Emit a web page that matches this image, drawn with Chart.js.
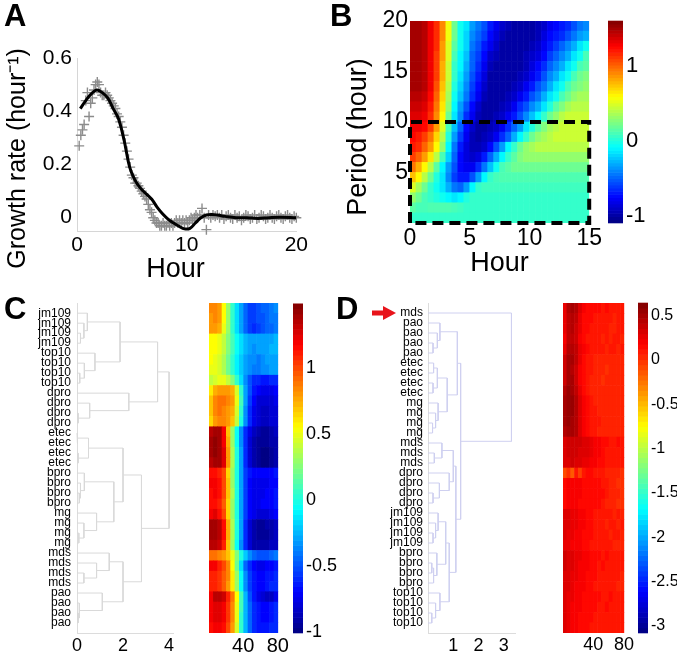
<!DOCTYPE html>
<html>
<head>
<meta charset="utf-8">
<script src="https://cdn.jsdelivr.net/npm/chart.js@4.4.1/dist/chart.umd.min.js"></script>
<style>
  body { margin: 0; background: #fff; }
  #wrap { position: relative; width: 677px; height: 655px; overflow: hidden; background: #fff; }
  canvas { position: absolute; }
  .tag { position: absolute; font: bold 31px 'Liberation Sans', Arial, sans-serif; line-height: 31px; }
</style>
</head>
<body>
<div id="wrap">
  <canvas id="growth" width="310" height="290" style="left:0;top:0"></canvas>
  <canvas id="wave" width="264" height="282" style="left:340px;top:0"></canvas>
  <canvas id="waveBar" width="77" height="282" style="left:600px;top:0"></canvas>
  <canvas id="treeC" width="190" height="365" style="left:0;top:290px"></canvas>
  <canvas id="heatC" width="100" height="365" style="left:190px;top:290px"></canvas>
  <canvas id="barC" width="55" height="365" style="left:285px;top:290px"></canvas>
  <canvas id="treeD" width="190" height="365" style="left:340px;top:290px"></canvas>
  <canvas id="heatD" width="95" height="365" style="left:540px;top:290px"></canvas>
  <canvas id="barD" width="47" height="365" style="left:630px;top:290px"></canvas>
  <div class="tag" style="left:4px;top:0">A</div>
  <div class="tag" style="left:330px;top:0">B</div>
  <div class="tag" style="left:4px;top:293px">C</div>
  <div class="tag" style="left:336px;top:293px">D</div>
</div>
<script>
// ---- panel A: growth rate ----
let obsHours = [0.2,0.35,0.5,0.65,0.8,0.95,1.1,1.25,1.4,1.55,
  1.7,1.85,2.0,2.15,2.3,2.45,2.6,2.75,2.9,3.05,
  3.2,3.35,3.5,3.65,3.8,3.95,4.1,4.25,4.4,4.55,
  4.7,4.85,5.0,5.15,5.3,5.45,5.6,5.75,5.9,6.05,
  6.2,6.35,6.5,6.65,6.8,6.95,7.1,7.25,7.4,7.55,
  7.7,7.85,8.0,8.15,8.3,8.45,8.6,8.75,8.9,9.05,
  9.2,9.35,9.5,9.65,9.8,9.95,10.1,10.25,10.4,10.55,
  10.7,10.85,11.0,11.2,11.4,11.6,11.8,12.0,12.2,12.4,
  12.6,12.8,13.0,13.2,13.4,13.6,13.8,14.0,14.2,14.4,
  14.6,14.8,15.0,15.2,15.4,15.6,15.8,16.0,16.2,16.4,
  16.6,16.8,17.0,17.2,17.4,17.6,17.8,18.0,18.2,18.4,
  18.6,18.8,19.0,19.2,19.4,19.6,19.8,20.0];
let obsRates = [0.27,0.31,0.33,0.35,0.44,0.47,0.38,0.43,0.45,0.48,
  0.50,0.51,0.50,0.47,0.46,0.46,0.47,0.46,0.45,0.44,
  0.43,0.42,0.41,0.39,0.38,0.36,0.34,0.31,0.28,0.25,
  0.22,0.19,0.16,0.15,0.13,0.13,0.12,0.11,0.10,0.09,
  0.08,0.07,0.05,0.03,0.02,0.0,-0.01,-0.02,-0.02,-0.03,
  -0.03,-0.02,-0.03,-0.03,-0.02,-0.03,-0.02,-0.03,-0.02,-0.01,
  -0.02,-0.01,-0.02,-0.01,-0.02,-0.01,-0.02,-0.01,0.0,-0.01,
  0.0,0.01,0.0,0.01,0.035,0.0,-0.045,0.01,0.0,0.01,
  0.005,0.01,0.0,0.01,-0.005,0.005,0.01,0.0,-0.005,0.01,
  0.0,0.005,-0.01,0.0,0.01,0.005,-0.005,0.0,0.01,-0.005,
  0.0,0.01,0.005,-0.005,0.0,0.01,0.0,-0.005,0.005,0.01,
  0.0,-0.005,0.005,0.01,0.0,-0.005,0.005,0.0];
let fitHours = [0.3,0.8,1.3,1.8,2.3,2.8,3.3,3.8,4.3,4.8,5.3,5.8,6.3,6.8,7.3,7.8,8.3,8.8,9.3,9.8,
  10.3,10.8,11.3,11.8,12.3,12.8,13.5,14.5,15.5,16.5,17.5,18.5,20];
let fitRates = [0.41,0.44,0.465,0.48,0.47,0.45,0.41,0.37,0.29,0.19,0.14,0.11,0.09,0.07,0.04,0.015,-0.005,-0.02,-0.032,-0.042,
  -0.04,-0.02,0.0,0.01,0.012,0.01,0.005,0.0,0.0,-0.003,0.0,0.002,0.0];
let aHourTicks = [0, 10, 20];
let aRateTicks = [0, 0.2, 0.4, 0.6];

// ---- panel B: wavelet map, rows from period 19.5 down to 0.5 ----
let bHours = [0.25,0.75,1.25,1.75,2.25,2.75,3.25,3.75,4.25,4.75,5.25,5.75,6.25,6.75,7.25,
  7.75,8.25,8.75,9.25,9.75,10.25,10.75,11.25,11.75,12.25,12.75,13.25,13.75,14.25,14.75];
let bPeriods = [19.5,18.5,17.5,16.5,15.5,14.5,13.5,12.5,11.5,10.5,9.5,8.5,7.5,6.5,5.5,4.5,3.5,2.5,1.5,0.5];
let bValues = [
  [1.5,1.5,1.45,1.3,1.15, 0.9,0.55,0.2,-0.05,-0.15, -0.35,-0.45,-0.55,-0.7,-0.8, -0.9,-0.95,-1.0,-1.0,-1.0, -1.0,-0.95,-0.9,-0.8,-0.75, -0.7,-0.65,-0.55,-0.45,-0.4],
  [1.5,1.5,1.45,1.3,1.15, 0.9,0.55,0.2,-0.05,-0.2, -0.4,-0.5,-0.6,-0.75,-0.85, -0.95,-1.0,-1.0,-1.0,-1.0, -1.0,-0.95,-0.85,-0.75,-0.7, -0.65,-0.55,-0.45,-0.35,-0.3],
  [1.5,1.5,1.45,1.3,1.15, 0.85,0.5,0.15,-0.05,-0.2, -0.45,-0.55,-0.7,-0.8,-0.9, -1.0,-1.0,-1.0,-1.0,-1.0, -0.95,-0.9,-0.8,-0.7,-0.6, -0.5,-0.4,-0.3,-0.15,-0.05],
  [1.5,1.5,1.45,1.3,1.1, 0.85,0.5,0.1,-0.1,-0.25, -0.5,-0.6,-0.75,-0.9,-0.95, -1.0,-1.0,-1.0,-1.0,-0.95, -0.9,-0.85,-0.75,-0.6,-0.5, -0.4,-0.3,-0.15,-0.05,0.1],
  [1.5,1.5,1.45,1.3,1.1, 0.8,0.45,0.05,-0.1,-0.3, -0.5,-0.65,-0.8,-0.95,-1.0, -1.0,-1.0,-1.0,-1.0,-0.95, -0.85,-0.75,-0.65,-0.5,-0.4, -0.3,-0.15,-0.05,0.1,0.15],
  [1.5,1.5,1.45,1.3,1.1, 0.8,0.45,0.05,-0.15,-0.35, -0.55,-0.7,-0.85,-1.0,-1.0, -1.0,-1.0,-1.0,-0.95,-0.9, -0.8,-0.7,-0.55,-0.4,-0.3, -0.15,-0.05,0.1,0.2,0.25],
  [1.5,1.5,1.45,1.3,1.05, 0.75,0.4,0.0,-0.2,-0.4, -0.6,-0.75,-0.9,-1.0,-1.0, -1.0,-1.0,-0.95,-0.9,-0.8, -0.7,-0.55,-0.45,-0.3,-0.15, -0.05,0.1,0.2,0.25,0.3],
  [1.45,1.45,1.4,1.25,1.0, 0.7,0.35,-0.05,-0.25,-0.45, -0.65,-0.8,-0.95,-1.0,-1.0, -1.0,-0.95,-0.9,-0.8,-0.7, -0.55,-0.45,-0.3,-0.15,-0.05, 0.1,0.2,0.3,0.35,0.35],
  [1.4,1.4,1.35,1.2,0.95, 0.65,0.3,-0.1,-0.35,-0.55, -0.75,-0.9,-1.0,-1.0,-1.0, -0.95,-0.9,-0.8,-0.65,-0.55, -0.4,-0.3,-0.15,0.0,0.15, 0.25,0.35,0.4,0.4,0.4],
  [1.35,1.35,1.3,1.15,0.9, 0.6,0.2,-0.15,-0.4,-0.65, -0.8,-0.95,-1.0,-1.0,-0.95, -0.9,-0.8,-0.7,-0.55,-0.4, -0.25,-0.1,0.05,0.2,0.3, 0.4,0.45,0.45,0.45,0.45],
  [1.3,1.3,1.25,1.1,0.85, 0.5,0.1,-0.25,-0.5,-0.75, -0.9,-1.0,-1.0,-0.95,-0.9, -0.8,-0.65,-0.5,-0.35,-0.15, 0.0,0.15,0.25,0.35,0.4, 0.45,0.45,0.45,0.45,0.45],
  [1.25,1.2,1.1,0.95,0.7, 0.4,0.0,-0.35,-0.6,-0.8, -0.95,-1.0,-0.95,-0.9,-0.8, -0.65,-0.5,-0.3,-0.1,0.05, 0.2,0.3,0.35,0.4,0.45, 0.45,0.45,0.45,0.45,0.45],
  [1.2,1.15,1.0,0.85,0.6, 0.3,-0.1,-0.45,-0.7,-0.85, -0.95,-0.95,-0.9,-0.75,-0.55, -0.35,-0.1,0.05,0.2,0.3, 0.35,0.4,0.4,0.4,0.4, 0.4,0.4,0.4,0.4,0.4],
  [1.1,1.0,0.85,0.65,0.4, 0.1,-0.2,-0.5,-0.75,-0.85, -0.9,-0.85,-0.7,-0.5,-0.3, -0.1,0.05,0.15,0.25,0.3, 0.3,0.3,0.3,0.3,0.3, 0.3,0.3,0.3,0.3,0.3],
  [0.95,0.8,0.6,0.4,0.15, -0.1,-0.35,-0.55,-0.75,-0.8, -0.8,-0.65,-0.45,-0.25,-0.05, 0.1,0.15,0.2,0.2,0.2, 0.2,0.2,0.2,0.2,0.2, 0.2,0.2,0.2,0.2,0.2],
  [0.75,0.6,0.4,0.2,0.0, -0.15,-0.4,-0.6,-0.7,-0.7, -0.55,-0.35,-0.1,0.05,0.1, 0.12,0.12,0.12,0.12,0.12, 0.12,0.12,0.12,0.12,0.12, 0.12,0.12,0.12,0.12,0.12],
  [0.5,0.35,0.2,0.05,-0.05, -0.15,-0.3,-0.45,-0.5,-0.35, -0.1,0.05,0.08,0.08,0.08, 0.08,0.08,0.08,0.08,0.08, 0.08,0.08,0.08,0.08,0.08, 0.08,0.08,0.08,0.08,0.08],
  [0.3,0.2,0.1,0.05,0.0, -0.05,-0.1,-0.15,-0.1,0.0, 0.05,0.05,0.05,0.05,0.05, 0.05,0.05,0.05,0.05,0.05, 0.05,0.05,0.05,0.05,0.05, 0.05,0.05,0.05,0.05,0.05],
  [0.15,0.1,0.1,0.12,0.12, 0.12,0.12,0.1,0.08,0.05, 0.05,0.05,0.05,0.05,0.05, 0.05,0.05,0.05,0.05,0.05, 0.05,0.05,0.05,0.05,0.05, 0.05,0.05,0.05,0.05,0.05],
  [0.05,0.05,0.05,0.05,0.05, 0.05,0.05,0.05,0.05,0.05, 0.05,0.05,0.05,0.05,0.05, 0.05,0.05,0.05,0.05,0.05, 0.05,0.05,0.05,0.05,0.05, 0.05,0.05,0.05,0.05,0.05]
];
let boxHours = [0, 0, 15, 15, 0];
let boxPeriods = [0, 10, 10, 0, 0];
let bHourTicks = [0, 5, 10, 15];
let bPeriodTicks = [5, 10, 15, 20];
let bBarTicks = [-1, 0, 1];

// ---- panels C and D: clustered strains ----
let cStrains = ['jm109','jm109','jm109','jm109','top10','top10','top10','top10',
  'dpro','dpro','dpro','dpro','etec','etec','etec','etec',
  'bpro','bpro','bpro','bpro','mg','mg','mg','mg',
  'mds','mds','mds','mds','pao','pao','pao','pao'];
let dStrains = ['mds','pao','pao','pao','pao','etec','etec','etec','etec',
  'mg','mg','mg','mg','mds','mds','mds','dpro','dpro','dpro','dpro',
  'jm109','jm109','jm109','jm109','bpro','bpro','bpro','bpro',
  'top10','top10','top10','top10'];
// links: [rowA, heightA, rowB, heightB, joinHeight]
let cLinks = [
  [3,0,4,0,0.15],[2,0,3.5,0.15,0.3],[1,0,2.75,0.3,0.45],
  [7,0,8,0,0.12],[6,0,7.5,0.12,0.32],[5,0,6.75,0.32,0.78],
  [1.875,0.45,5.875,0.78,1.87],
  [11,0,12,0,0.05],[10,0,11.5,0.05,0.55],[9,0,10.75,0.55,2.25],
  [3.875,1.87,9.875,2.25,3.5],
  [13,0,14,0,0.03],[15,0,16,0,0.05],[13.5,0.03,15.5,0.05,0.5],
  [19,0,20,0,0.1],[18,0,19.5,0.1,0.15],[17,0,18.75,0.15,0.32],
  [23,0,24,0,0.08],[22,0,23.5,0.08,0.3],[21,0,22.75,0.3,0.85],
  [17.875,0.32,21.875,0.85,1.6],[14.5,0.5,19.875,1.6,2.0],
  [27,0,28,0,0.3],[26,0,27.5,0.3,0.85],[25,0,26.75,0.85,1.4],
  [31,0,32,0,0.05],[30,0,31.5,0.05,0.1],[29,0,30.75,0.1,1.1],
  [25.875,1.4,29.875,1.1,2.0],[17.19,2.0,27.875,2.0,2.8],
  [6.875,3.5,22.53,2.8,4.0]
];
let dLinks = [
  [4,0,5,0,0.2],[3,0,4.5,0.2,0.37],[2,0,3.75,0.37,0.47],
  [6,0,7,0,0.22],[8,0,9,0,0.2],[6.5,0.22,8.5,0.2,0.37],
  [12,0,13,0,0.18],[11,0,12.5,0.18,0.3],[10,0,11.75,0.3,0.4],
  [7.5,0.37,10.875,0.4,0.76],[2.875,0.47,9.19,0.76,1.16],
  [15,0,16,0,0.25],[14,0,15.5,0.25,0.55],
  [19,0,20,0,0.2],[18,0,19.5,0.2,0.45],[17,0,18.75,0.45,0.84],
  [14.75,0.55,17.875,0.84,1.0],
  [23,0,24,0,0.2],[22,0,23.5,0.2,0.3],[21,0,22.75,0.3,0.4],
  [26,0,27,0,0.15],[26.5,0.15,28,0,0.22],[25,0,27.25,0.22,0.35],
  [21.875,0.4,26.125,0.35,0.7],
  [31,0,32,0,0.15],[30,0,31.5,0.15,0.3],[29,0,30.75,0.3,0.47],
  [24,0.7,29.875,0.47,0.84],[16.31,1.0,26.94,0.84,1.1],
  [6.03,1.16,21.625,1.1,1.29],[1,0,13.83,1.29,3.3]
];
let timeCols = [3,8,13,18,23,28,33,38,43,48,53,58,63,68,73,78];
let timeTicks = [40, 80];
let cValues = [
  [0.85,0.85,0.8,0.55,0.3,0.05,-0.15,-0.3,-0.45,-0.55,-0.55,-0.5,-0.45,-0.45,-0.4,-0.35],
  [0.8,0.85,0.8,0.55,0.3,0.05,-0.15,-0.3,-0.45,-0.55,-0.55,-0.5,-0.5,-0.45,-0.4,-0.4],
  [0.8,0.8,0.75,0.5,0.3,0.05,-0.15,-0.3,-0.45,-0.55,-0.6,-0.55,-0.5,-0.45,-0.45,-0.4],
  [0.55,0.55,0.5,0.4,0.25,0.1,-0.05,-0.15,-0.25,-0.3,-0.3,-0.3,-0.3,-0.3,-0.3,-0.25],
  [0.55,0.55,0.5,0.4,0.25,0.1,-0.05,-0.15,-0.25,-0.3,-0.35,-0.3,-0.3,-0.3,-0.25,-0.25],
  [0.55,0.5,0.45,0.35,0.2,0.05,-0.1,-0.2,-0.3,-0.35,-0.35,-0.4,-0.35,-0.3,-0.3,-0.3],
  [0.5,0.5,0.45,0.35,0.2,0.05,-0.1,-0.2,-0.3,-0.35,-0.4,-0.4,-0.35,-0.35,-0.3,-0.3],
  [0.4,0.45,0.5,0.5,0.4,0.25,0.05,-0.15,-0.35,-0.5,-0.6,-0.6,-0.65,-0.65,-0.6,-0.6],
  [0.6,0.75,0.8,0.8,0.8,0.75,0.45,0.05,-0.3,-0.5,-0.65,-0.7,-0.75,-0.75,-0.75,-0.7],
  [0.7,0.85,0.9,0.9,0.85,0.8,0.5,0.1,-0.3,-0.55,-0.7,-0.8,-0.8,-0.8,-0.8,-0.75],
  [0.7,0.85,0.9,0.85,0.8,0.75,0.45,0.05,-0.35,-0.6,-0.75,-0.8,-0.85,-0.85,-0.8,-0.8],
  [0.65,0.8,0.85,0.85,0.8,0.7,0.4,0.0,-0.35,-0.6,-0.75,-0.8,-0.85,-0.85,-0.8,-0.8],
  [1.35,1.4,1.4,1.2,0.7,0.3,-0.05,-0.35,-0.6,-0.75,-0.85,-0.9,-0.95,-0.95,-0.9,-0.85],
  [1.4,1.45,1.4,1.2,0.75,0.3,-0.05,-0.35,-0.6,-0.8,-0.9,-0.95,-0.95,-0.95,-0.9,-0.9],
  [1.4,1.45,1.4,1.25,0.8,0.35,0.0,-0.3,-0.6,-0.8,-0.9,-0.95,-1.0,-1.0,-0.95,-0.9],
  [1.35,1.4,1.4,1.25,0.8,0.35,0.0,-0.3,-0.6,-0.8,-0.9,-0.95,-1.0,-1.0,-0.95,-0.9],
  [1.15,1.15,1.1,1.0,0.65,0.3,0.0,-0.3,-0.55,-0.65,-0.7,-0.7,-0.7,-0.7,-0.7,-0.65],
  [1.2,1.2,1.15,1.0,0.7,0.3,0.0,-0.3,-0.55,-0.7,-0.75,-0.75,-0.75,-0.75,-0.7,-0.7],
  [1.15,1.2,1.15,1.0,0.7,0.35,0.0,-0.3,-0.55,-0.7,-0.75,-0.75,-0.75,-0.7,-0.7,-0.65],
  [1.15,1.15,1.1,0.95,0.65,0.3,0.0,-0.3,-0.55,-0.7,-0.75,-0.75,-0.7,-0.7,-0.7,-0.65],
  [1.2,1.25,1.15,1.0,0.65,0.3,0.0,-0.3,-0.55,-0.7,-0.75,-0.8,-0.8,-0.8,-0.75,-0.7],
  [1.4,1.4,1.35,1.15,0.75,0.35,0.0,-0.3,-0.6,-0.8,-0.9,-0.95,-0.95,-0.9,-0.9,-0.85],
  [1.4,1.4,1.35,1.15,0.75,0.35,0.0,-0.3,-0.6,-0.8,-0.9,-0.95,-0.95,-0.95,-0.9,-0.85],
  [1.35,1.35,1.3,1.1,0.7,0.3,-0.05,-0.35,-0.6,-0.8,-0.9,-0.9,-0.9,-0.9,-0.85,-0.85],
  [0.9,0.9,0.85,0.8,0.7,0.5,0.25,0.0,-0.2,-0.35,-0.45,-0.5,-0.5,-0.5,-0.45,-0.4],
  [1.2,1.2,1.1,1.0,0.85,0.55,0.2,-0.15,-0.45,-0.6,-0.7,-0.75,-0.75,-0.7,-0.7,-0.65],
  [1.1,1.1,1.05,0.95,0.85,0.6,0.3,-0.05,-0.35,-0.55,-0.65,-0.7,-0.7,-0.65,-0.65,-0.6],
  [1.1,1.1,1.05,0.95,0.8,0.6,0.3,-0.05,-0.35,-0.55,-0.65,-0.7,-0.7,-0.65,-0.6,-0.6],
  [1.2,1.35,1.35,1.3,1.1,0.9,0.55,0.1,-0.25,-0.5,-0.65,-0.75,-0.8,-0.85,-0.85,-0.75],
  [1.2,1.25,1.25,1.2,1.05,0.85,0.5,0.1,-0.25,-0.45,-0.6,-0.65,-0.7,-0.7,-0.65,-0.6],
  [1.2,1.25,1.25,1.2,1.05,0.85,0.5,0.05,-0.25,-0.45,-0.6,-0.65,-0.7,-0.7,-0.65,-0.6],
  [1.15,1.2,1.2,1.15,1.0,0.8,0.45,0.05,-0.25,-0.45,-0.6,-0.65,-0.65,-0.65,-0.6,-0.6]
];
let dValues = [
  [0.25,0.45,0.5,0.45,0.3,0.2,0.15,0.15,0.15,0.15,0.1,0.15,0.1,0.1,0.1,0.1],
  [0.25,0.4,0.45,0.4,0.25,0.15,0.15,0.15,0.1,0.1,0.1,0.1,0.1,0.05,0.1,0.1],
  [0.25,0.4,0.45,0.35,0.25,0.15,0.15,0.1,0.1,0.1,0.1,0.1,0.05,0.05,0.1,0.1],
  [0.2,0.4,0.4,0.35,0.2,0.15,0.1,0.1,0.1,0.1,0.05,0.1,0.05,0.1,0.1,0.05],
  [0.25,0.45,0.45,0.4,0.25,0.2,0.15,0.1,0.1,0.1,0.1,0.05,0.1,0.1,0.05,0.1],
  [0.35,0.5,0.5,0.4,0.25,0.15,0.1,0.1,0.05,0.05,0.05,0.05,0.05,0.05,0.05,0.05],
  [0.35,0.5,0.45,0.35,0.2,0.15,0.1,0.1,0.05,0.05,0.05,0.0,0.05,0.05,0.05,0.05],
  [0.35,0.5,0.5,0.35,0.2,0.15,0.1,0.05,0.05,0.05,0.0,0.05,0.05,0.05,0.05,0.05],
  [0.45,0.55,0.5,0.4,0.25,0.15,0.1,0.05,0.05,0.05,0.05,0.05,0.05,0.05,0.05,0.05],
  [0.5,0.55,0.55,0.45,0.3,0.2,0.15,0.1,0.05,0.05,0.05,0.05,0.05,0.05,0.05,0.05],
  [0.5,0.55,0.55,0.45,0.3,0.2,0.15,0.1,0.1,0.05,0.05,0.05,0.05,0.05,0.05,0.05],
  [0.5,0.55,0.5,0.45,0.3,0.2,0.15,0.1,0.1,0.1,0.05,0.05,0.05,0.05,0.05,0.05],
  [0.45,0.5,0.5,0.45,0.3,0.2,0.15,0.1,0.1,0.05,0.05,0.05,0.05,0.05,0.05,0.05],
  [0.3,0.35,0.35,0.35,0.35,0.3,0.3,0.25,0.2,0.2,0.15,0.15,0.1,0.1,0.15,0.1],
  [0.3,0.35,0.35,0.35,0.3,0.3,0.3,0.25,0.2,0.2,0.15,0.1,0.1,0.1,0.1,0.1],
  [0.3,0.3,0.35,0.3,0.3,0.25,0.25,0.2,0.2,0.15,0.15,0.1,0.1,0.1,0.1,0.1],
  [-0.1,0.0,-0.15,0.1,-0.05,0.1,0.15,0.15,0.1,0.1,0.1,0.05,0.05,0.05,0.05,0.0],
  [0.15,0.2,0.2,0.2,0.2,0.15,0.15,0.15,0.15,0.15,0.1,0.1,0.05,0.05,0.0,0.0],
  [0.15,0.2,0.2,0.2,0.2,0.15,0.15,0.15,0.15,0.15,0.15,0.1,0.05,0.05,0.05,0.0],
  [0.15,0.2,0.2,0.2,0.15,0.15,0.15,0.15,0.15,0.15,0.1,0.05,0.05,0.05,0.0,0.0],
  [0.3,0.3,0.25,0.25,0.2,0.2,0.15,0.15,0.1,0.1,0.1,0.1,0.1,0.05,0.1,0.05],
  [0.3,0.3,0.25,0.25,0.2,0.2,0.15,0.15,0.1,0.1,0.1,0.05,0.1,0.1,0.05,0.1],
  [0.3,0.25,0.25,0.2,0.2,0.15,0.15,0.15,0.1,0.1,0.1,0.1,0.05,0.1,0.1,0.05],
  [0.25,0.25,0.2,0.2,0.2,0.15,0.15,0.1,0.1,0.1,0.1,0.1,0.1,0.05,0.05,0.05],
  [0.35,0.3,0.3,0.25,0.25,0.2,0.2,0.15,0.15,0.15,0.1,0.15,0.1,0.1,0.1,0.1],
  [0.35,0.3,0.3,0.25,0.2,0.2,0.2,0.15,0.15,0.1,0.15,0.1,0.1,0.1,0.1,0.1],
  [0.3,0.3,0.25,0.25,0.2,0.2,0.15,0.15,0.15,0.1,0.1,0.1,0.1,0.1,0.1,0.05],
  [0.3,0.3,0.25,0.2,0.2,0.2,0.15,0.15,0.1,0.1,0.1,0.1,0.1,0.1,0.05,0.05],
  [0.3,0.25,0.25,0.2,0.2,0.15,0.15,0.15,0.15,0.15,0.1,0.1,0.15,0.1,0.1,0.1],
  [0.3,0.25,0.2,0.2,0.2,0.15,0.15,0.15,0.15,0.1,0.1,0.15,0.1,0.1,0.1,0.1],
  [0.3,0.25,0.2,0.2,0.15,0.15,0.15,0.15,0.1,0.1,0.1,0.1,0.1,0.1,0.1,0.1],
  [0.3,0.25,0.2,0.2,0.15,0.15,0.15,0.1,0.1,0.1,0.1,0.1,0.1,0.1,0.1,0.1]
];
let cBarTicks = [-1, -0.5, 0, 0.5, 1];
let dBarTicks = [-3, -2.5, -2, -1.5, -1, -0.5, 0, 0.5];
let cTreeTicks = [0, 2, 4];
let dTreeTicks = [1, 2, 3];

Chart.defaults.font.family = "'Liberation Sans', Arial, sans-serif";
Chart.defaults.color = '#000';
Chart.defaults.animation = false;
Chart.defaults.plugins.legend.display = false;
Chart.defaults.plugins.tooltip.enabled = false;

function jet(t) {
  t = Math.max(0, Math.min(1, t));
  const c = v => Math.round(255 * Math.max(0, Math.min(1, v)));
  return 'rgb(' + c(1.5 - Math.abs(4 * t - 3)) + ',' + c(1.5 - Math.abs(4 * t - 2)) + ',' + c(1.5 - Math.abs(4 * t - 1)) + ')';
}

let fixW = w => s => { s.width = w; };
let fixH = h => s => { s.height = h; };
let setTicks = arr => s => { s.ticks = arr.map(v => ({ value: v })); };
let noGrid = { display: false, drawTicks: false };

// paints a value grid into the chart area, cell by cell, through the scales
function heatLayer(cfg) {
  return {
    id: 'heat',
    beforeDatasetsDraw(chart) {
      const { ctx, chartArea: a, scales: { x, y } } = chart;
      ctx.save();
      ctx.beginPath();
      ctx.rect(a.left, a.top, a.width, a.height);
      ctx.clip();
      cfg.rows.forEach((row, j) => {
        const y0 = y.getPixelForValue(cfg.ys[j] - cfg.dy / 2);
        const y1 = y.getPixelForValue(cfg.ys[j] + cfg.dy / 2);
        row.forEach((v, i) => {
          const x0 = x.getPixelForValue(cfg.xs[i] - cfg.dx / 2);
          const x1 = x.getPixelForValue(cfg.xs[i] + cfg.dx / 2);
          ctx.fillStyle = jet((v - cfg.vmin) / (cfg.vmax - cfg.vmin));
          ctx.fillRect(Math.min(x0, x1) - 0.3, Math.min(y0, y1) - 0.3, Math.abs(x1 - x0) + 0.6, Math.abs(y1 - y0) + 0.6);
        });
      });
      ctx.restore();
    }
  };
}

function colorBar(vmin, vmax, steps) {
  return {
    id: 'cbar',
    beforeDatasetsDraw(chart) {
      const { ctx, chartArea: a, scales: { y } } = chart;
      for (let k = 0; k < steps; k++) {
        const p0 = y.getPixelForValue(vmin + (vmax - vmin) * k / steps);
        const p1 = y.getPixelForValue(vmin + (vmax - vmin) * (k + 1) / steps);
        ctx.fillStyle = jet((k + 0.5) / steps);
        ctx.fillRect(a.left, p1 - 0.3, a.width, p0 - p1 + 0.6);
      }
    }
  };
}

// panel A
new Chart(document.getElementById('growth'), {
  type: 'scatter',
  data: {
    datasets: [
      { data: fitHours.map((h, i) => ({ x: h, y: fitRates[i] })), showLine: true, borderColor: '#000',
        borderWidth: 3, pointRadius: 0, tension: 0.4 },
      { data: obsHours.map((h, i) => ({ x: h, y: obsRates[i] })), pointStyle: 'cross', pointRadius: 5,
        borderColor: '#8c8c8c', borderWidth: 1.4, clip: false }
    ]
  },
  options: {
    responsive: false,
    layout: { padding: { top: 58, right: 12, left: 0, bottom: 0 } },
    scales: {
      x: {
        type: 'linear', min: 0, max: 20, afterBuildTicks: setTicks(aHourTicks), afterFit: fixH(59),
        grid: noGrid, border: { color: '#d6d6d6' },
        ticks: { font: { size: 21 }, padding: 2, autoSkip: false, maxRotation: 0 },
        title: { display: true, text: 'Hour\u00a0\u00a0\u00a0', font: { size: 27 }, padding: { top: 0, bottom: 4 } }
      },
      y: {
        min: -0.05, max: 0.6, afterBuildTicks: setTicks(aRateTicks), afterFit: fixW(77),
        grid: noGrid, border: { color: '#d6d6d6' },
        ticks: { font: { size: 21 }, padding: 5, autoSkip: false, callback: v => v === 0 ? '0' : v.toFixed(1) },
        title: { display: true, text: 'Growth rate (hour\u207b\u00b9)\u00a0\u00a0\u00a0\u00a0', font: { size: 25 }, padding: { top: 3, bottom: 0 } }
      }
    }
  }
});

// panel B
new Chart(document.getElementById('wave'), {
  type: 'scatter',
  data: {
    datasets: [{
      data: boxHours.map((h, i) => ({ x: h, y: boxPeriods[i] })), showLine: true, borderColor: '#000',
      borderWidth: 4, borderDash: [11, 6], pointRadius: 0, clip: false, borderJoinStyle: 'miter'
    }]
  },
  plugins: [heatLayer({ rows: bValues, xs: bHours, ys: bPeriods, dx: 0.5, dy: 1, vmin: -1.1, vmax: 1.6 })],
  options: {
    responsive: false,
    layout: { padding: { top: 21, right: 6, left: 0, bottom: 0 } },
    scales: {
      x: {
        type: 'linear', min: 0, max: 15, afterBuildTicks: setTicks(bHourTicks), afterFit: fixH(59),
        grid: noGrid, border: { display: false },
        ticks: { font: { size: 23 }, padding: 2, autoSkip: false, maxRotation: 0 },
        title: { display: true, text: 'Hour', font: { size: 27 }, padding: { top: 0, bottom: 2 } }
      },
      y: {
        min: 0, max: 20, afterBuildTicks: setTicks(bPeriodTicks), afterFit: fixW(70),
        grid: noGrid, border: { display: false },
        ticks: { font: { size: 23 }, padding: 2, autoSkip: false },
        title: { display: true, text: 'Period (hour)\u00a0\u00a0\u00a0\u00a0', font: { size: 27 }, padding: { top: 2, bottom: 0 } }
      }
    }
  }
});

function barChart(id, vmin, vmax, ticks, padL, yW, padT, padB, size) {
  new Chart(document.getElementById(id), {
    type: 'scatter',
    data: { datasets: [] },
    plugins: [colorBar(vmin, vmax, 64)],
    options: {
      responsive: false,
      layout: { padding: { left: padL, top: padT, bottom: padB, right: 0 } },
      scales: {
        x: { display: false, type: 'linear', min: 0, max: 1 },
        y: {
          position: 'right', min: vmin, max: vmax, afterBuildTicks: setTicks(ticks), afterFit: fixW(yW),
          grid: noGrid, border: { display: false },
          ticks: { font: { size: size }, padding: 3, autoSkip: false, callback: v => String(v) }
        }
      }
    }
  });
}

barChart('waveBar', -1.1, 1.6, bBarTicks, 8, 54, 21, 59, 22);

function treeChart(id, labels, links, xMax, xTicks, yW, padR, labelPad, color, extra) {
  new Chart(document.getElementById(id), {
    type: 'scatter',
    data: {
      datasets: links.map(l => ({
        data: [{ x: l[1], y: l[0] }, { x: l[4], y: l[0] }, { x: l[4], y: l[2] }, { x: l[3], y: l[2] }],
        showLine: true, borderColor: color, borderWidth: 1, pointRadius: 0, clip: false
      }))
    },
    plugins: extra ? [extra] : [],
    options: {
      responsive: false,
      layout: { padding: { top: 13, right: padR, left: 0, bottom: 0 } },
      scales: {
        x: {
          type: 'linear', min: 0, max: xMax, afterBuildTicks: setTicks(xTicks), afterFit: fixH(22),
          grid: noGrid, border: { color: '#dcdcdc' },
          ticks: { font: { size: 18 }, padding: 2, autoSkip: false, maxRotation: 0 }
        },
        y: {
          min: 0, max: 33, reverse: true, afterBuildTicks: setTicks(labels.map((_, i) => i + 1)), afterFit: fixW(yW),
          grid: noGrid, border: { color: '#dcdcdc' },
          ticks: { font: { size: 12 }, padding: labelPad, autoSkip: false, callback: v => labels[v - 1] }
        }
      }
    }
  });
}

function heatChart(id, rows, vmin, vmax, padL, padR, size) {
  new Chart(document.getElementById(id), {
    type: 'scatter',
    data: { datasets: [] },
    plugins: [heatLayer({ rows: rows, xs: timeCols, ys: rows.map((_, i) => i + 1), dx: 5, dy: 1, vmin: vmin, vmax: vmax })],
    options: {
      responsive: false,
      layout: { padding: { top: 13, right: padR, left: padL, bottom: 0 } },
      scales: {
        x: {
          type: 'linear', min: 0.5, max: 80.5, afterBuildTicks: setTicks(timeTicks), afterFit: fixH(22),
          grid: noGrid, border: { display: false },
          ticks: { font: { size: size }, padding: 1, autoSkip: false, maxRotation: 0 }
        },
        y: { display: false, min: 0.5, max: 32.5, reverse: true }
      }
    }
  });
}

// red arrow pointing at the first row of panel D
let rowArrow = {
  id: 'arrow',
  afterDraw(chart) {
    const { ctx, scales: { y } } = chart;
    const yp = y.getPixelForValue(1);
    ctx.save();
    ctx.fillStyle = '#e8141b';
    ctx.fillRect(32, yp - 2.5, 13, 5);
    ctx.beginPath();
    ctx.moveTo(43, yp - 7);
    ctx.lineTo(56, yp);
    ctx.lineTo(43, yp + 7);
    ctx.closePath();
    ctx.fill();
    ctx.restore();
  }
};

treeChart('treeC', cStrains, cLinks, 4.17, cTreeTicks, 77, 17, 6, '#d9d9d9');
heatChart('heatC', cValues, -1.01, 1.49, 19, 9, 20);
barChart('barC', -1.01, 1.49, cBarTicks, 8, 37, 13, 22, 18);

treeChart('treeD', dStrains, dLinks, 3.44, dTreeTicks, 88, 15, 5, '#cfd0f0', rowArrow);
heatChart('heatD', dValues, -3.08, 0.64, 23, 8, 18);
barChart('barD', -3.08, 0.64, dBarTicks, 8, 29, 13, 22, 16);
</script>
</body>
</html>
